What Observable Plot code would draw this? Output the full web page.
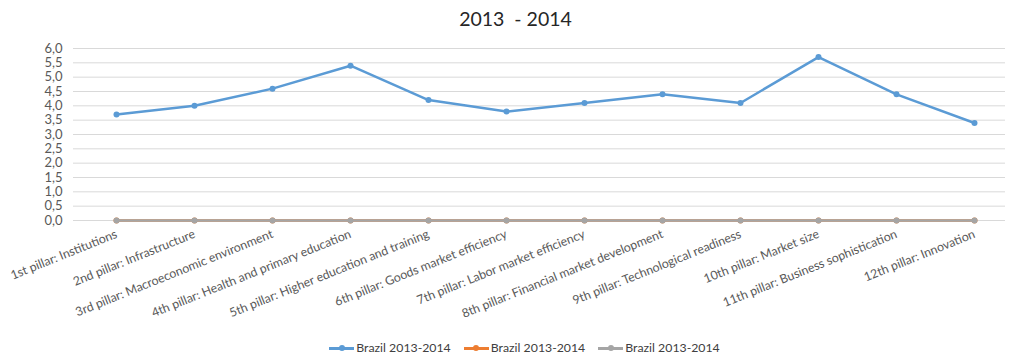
<!DOCTYPE html>
<html>
<head>
<meta charset="utf-8">
<script src="https://cdn.jsdelivr.net/npm/d3@7"></script>
<script src="https://cdn.jsdelivr.net/npm/@observablehq/plot@0.6"></script>
<style>
  body { margin: 0; background: #fff; font-family: Lato, "Open Sans", sans-serif; }
  #title { height: 38px; line-height: 38px; font-size: 19.5px; color: #262626; text-align: center; padding-left: 20px; white-space: pre; }
  #legend { margin-top: 12px; height: 16px; line-height: 16px; font-size: 12.3px; color: #404040; display: flex; justify-content: center; gap: 13px; padding-left: 38px; }
  .item { display: flex; align-items: center; gap: 2px; }
  .sw { position: relative; width: 25px; height: 16px; }
  .sw .ln { position: absolute; left: 0; right: 0; top: 7px; height: 2.5px; }
  .sw .dt { position: absolute; left: 9.5px; top: 5px; width: 6px; height: 6px; border-radius: 50%; }
</style>
</head>
<body>
<div id="title">2013  - 2014</div>
<div id="chart"></div>
<div id="legend"></div>
<script>
const categories = [
  "1st pillar: Institutions",
  "2nd pillar: Infrastructure",
  "3rd pillar: Macroeconomic environment",
  "4th pillar: Health and primary education",
  "5th pillar: Higher education and training",
  "6th pillar: Goods market efficiency",
  "7th pillar: Labor market efficiency",
  "8th pillar: Financial market development",
  "9th pillar: Technological readiness",
  "10th pillar: Market size",
  "11th pillar: Business sophistication",
  "12th pillar: Innovation"
];
const brazilA = [3.7, 4.0, 4.6, 5.4, 4.2, 3.8, 4.1, 4.4, 4.1, 5.7, 4.4, 3.4];
const brazilB = [0, 0, 0, 0, 0, 0, 0, 0, 0, 0, 0, 0];
const brazilC = [0, 0, 0, 0, 0, 0, 0, 0, 0, 0, 0, 0];
const seriesNames = ["Brazil 2013-2014", "Brazil 2013-2014", "Brazil 2013-2014"];
const seriesColors = ["#5b9bd5", "#ed7d31", "#a5a5a5"];
const yTicks = [0, 0.5, 1, 1.5, 2, 2.5, 3, 3.5, 4, 4.5, 5, 5.5, 6];

const seriesValues = [brazilA, brazilB, brazilC];
const rows = seriesValues.map((vals, s) => categories.map((c, i) => ({cat: c, value: vals[i], s})));

const fmt = d => d.toFixed(1).replace(".", ",");

const marks = [
  Plot.gridY(yTicks, {stroke: "#d9d9d9", strokeOpacity: 1, strokeWidth: 1}),
  Plot.axisY(yTicks, {tickSize: 0, tickPadding: 11, tickFormat: fmt, fontSize: 13, fill: "#595959", label: null}),
  Plot.axisX({tickSize: 0, tickPadding: 13, tickRotate: -22, fontSize: 12.3, fill: "#595959", label: null})
];
rows.forEach((data, s) => {
  marks.push(Plot.line(data, {x: "cat", y: "value", stroke: seriesColors[s], strokeWidth: 2.5}));
  marks.push(Plot.dot(data, {x: "cat", y: "value", fill: seriesColors[s], r: 3}));
});

const chart = Plot.plot({
  width: 1011,
  height: 290,
  marginTop: 10,
  marginBottom: 108,
  marginLeft: 73,
  marginRight: 6,
  style: {fontFamily: "Lato, 'Open Sans', sans-serif", background: "#fff"},
  x: {type: "point", domain: categories, range: [112, 977], padding: 0, label: null},
  y: {domain: [0, 6], label: null},
  marks
});
document.getElementById("chart").appendChild(chart);

const legend = document.getElementById("legend");
seriesNames.forEach((name, s) => {
  const it = document.createElement("div");
  it.className = "item";
  it.innerHTML = `<span class="sw"><span class="ln" style="background:${seriesColors[s]}"></span><span class="dt" style="background:${seriesColors[s]}"></span></span><span>${name}</span>`;
  legend.appendChild(it);
});
</script>
</body>
</html>
